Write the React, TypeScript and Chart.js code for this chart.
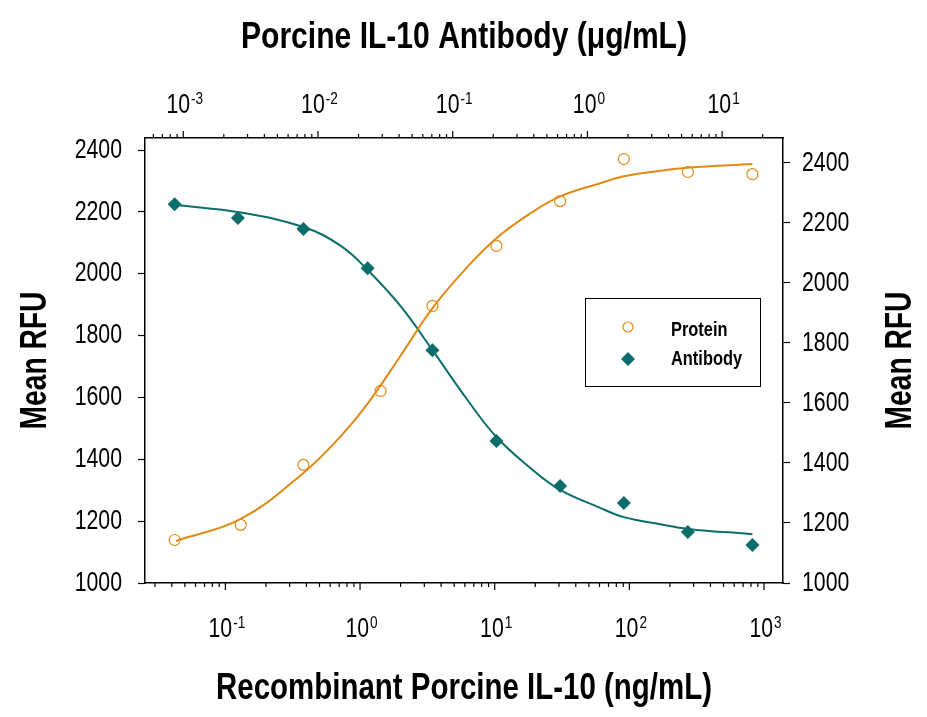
import React, { useEffect, useRef } from 'react';
import { Chart, registerables } from 'chart.js';

Chart.register(...registerables);

// measured points (ng/mL on the bottom axis, Mean RFU on the left axis)
const proteinDose = [0.042, 0.13, 0.38, 1.42, 3.45, 10.3, 30.6, 91, 272, 820];
const proteinRfu = [1139, 1188, 1382, 1621, 1896, 2090, 2235, 2371, 2329, 2322];
const antibodyDose = [0.042, 0.124, 0.38, 1.14, 3.45, 10.3, 30.6, 91, 272, 820];
const antibodyRfu = [2225, 2180, 2145, 2018, 1753, 1459, 1314, 1259, 1165, 1123];

// fitted curves
const fitDose = [0.043, 0.13, 0.38, 0.72, 1.14, 2.0, 3.45, 6.2, 10.3, 18.4, 30.6, 60, 91, 170, 272, 820];
const proteinFit = [1136, 1207, 1356, 1475, 1580, 1735, 1889, 2020, 2115, 2195, 2250, 2292, 2315, 2333, 2343, 2355];
const antibodyFit = [2222, 2198, 2151, 2090, 2012, 1895, 1753, 1595, 1472, 1372, 1301, 1244, 1213, 1190, 1175, 1158];

// axes
const rfuTicks = [1000, 1200, 1400, 1600, 1800, 2000, 2200, 2400];
const bottomDecades = [-2, -1, 0, 1, 2, 3];
const bottomLabels = [-1, 0, 1, 2, 3];
const topDecades = [-4, -3, -2, -1, 0, 1];
const topLabels = [-3, -2, -1, 0, 1];
const logSteps = [1, 2, 3, 4, 5, 6, 7, 8, 9];

const ORANGE = '#E08A14';
const TEAL = '#0B6E6A';
const FONT = "'Liberation Sans', Arial, sans-serif";

const toXY = (xs: number[], ys: number[]) => xs.map((x, i) => ({ x, y: ys[i] }));

// condensed text: the original uses a narrow face, so squeeze a regular one
const text = (ctx: any, s: string, x: number, y: number, font: string, sx: number, align: string, rot = 0) => {
  ctx.save();
  ctx.translate(x, y);
  if (rot) ctx.rotate(rot);
  ctx.scale(sx, 1);
  ctx.font = font;
  ctx.textAlign = align;
  ctx.fillText(s, 0, 0);
  ctx.restore();
};

const fitWidth = (ctx: any, s: string, font: string, target: number) => {
  ctx.font = font;
  return target / ctx.measureText(s).width;
};

const decor = {
  id: 'decor',
  afterDraw(chart: any) {
    const { ctx, chartArea, scales } = chart;
    ctx.save();
    ctx.strokeStyle = '#000';
    ctx.fillStyle = '#000';
    ctx.lineWidth = 1.2;
    ctx.textBaseline = 'alphabetic';

    const numFont = `28px ${FONT}`;
    const numSx = 0.76;
    const expFont = `17px ${FONT}`;
    const expSx = 0.8;

    // log ticks and 10^n labels for both x axes
    const drawLog = (scale: any, decades: number[], labels: number[], dir: number, base: number) => {
      const y0 = dir > 0 ? chartArea.bottom : chartArea.top;
      decades.forEach((d) => {
        logSteps.forEach((m) => {
          const v = m * Math.pow(10, d);
          if (v < scale.min || v > scale.max) return;
          const x = scale.getPixelForValue(v);
          const len = m === 1 ? 7 : 4;
          ctx.beginPath();
          ctx.moveTo(x, y0);
          ctx.lineTo(x, y0 + dir * len);
          ctx.stroke();
        });
      });
      labels.forEach((e) => {
        const x = scale.getPixelForValue(Math.pow(10, e));
        ctx.font = numFont;
        const w1 = ctx.measureText('10').width * numSx;
        ctx.font = expFont;
        const w2 = ctx.measureText(String(e)).width * expSx;
        const start = x - (w1 + w2) / 2 + 1;
        text(ctx, '10', start, base, numFont, numSx, 'left');
        text(ctx, String(e), start + w1 + 1, base - 9, expFont, expSx, 'left');
      });
    };
    drawLog(scales.x, bottomDecades, bottomLabels, 1, 637);
    drawLog(scales.x2, topDecades, topLabels, -1, 113);

    // y tick labels on both sides
    ctx.textBaseline = 'middle';
    rfuTicks.forEach((v) => {
      text(ctx, String(v), chartArea.left - 23, scales.y.getPixelForValue(v), numFont, numSx, 'right');
      text(ctx, String(v), chartArea.right + 19, scales.y2.getPixelForValue(v), numFont, numSx, 'left');
    });
    ctx.textBaseline = 'alphabetic';

    // axis titles
    const titleFont = `bold 37px ${FONT}`;
    const cx = (chartArea.left + chartArea.right) / 2;
    const cy = (chartArea.top + chartArea.bottom) / 2;
    const bottomTitle = 'Recombinant Porcine IL-10 (ng/mL)';
    const topTitle = 'Porcine IL-10 Antibody (\u03BCg/mL)';
    const yTitle = 'Mean RFU';
    text(ctx, bottomTitle, cx, 699, titleFont, fitWidth(ctx, bottomTitle, titleFont, 496), 'center');
    text(ctx, topTitle, cx, 48, titleFont, fitWidth(ctx, topTitle, titleFont, 446), 'center');
    const ySx = fitWidth(ctx, yTitle, titleFont, 138);
    text(ctx, yTitle, 46, cy, titleFont, ySx, 'center', -Math.PI / 2);
    text(ctx, yTitle, 911, cy, titleFont, ySx, 'center', -Math.PI / 2);

    // legend box
    ctx.lineWidth = 1;
    ctx.strokeRect(585.5, 298.5, 175, 88);
    ctx.strokeStyle = ORANGE;
    ctx.lineWidth = 1.2;
    ctx.beginPath();
    ctx.arc(628, 327, 5, 0, Math.PI * 2);
    ctx.stroke();
    ctx.fillStyle = TEAL;
    ctx.beginPath();
    ctx.moveTo(628, 352);
    ctx.lineTo(635, 359);
    ctx.lineTo(628, 366);
    ctx.lineTo(621, 359);
    ctx.closePath();
    ctx.fill();
    ctx.fillStyle = '#000';
    const legFont = `bold 20px ${FONT}`;
    text(ctx, chart.data.datasets[0].label, 671, 336, legFont, 0.82, 'left');
    text(ctx, chart.data.datasets[1].label, 671, 365, legFont, 0.82, 'left');
    ctx.restore();
  },
};

const App: React.FC = () => {
  const canvasRef = useRef<HTMLCanvasElement | null>(null);

  useEffect(() => {
    if (!canvasRef.current) return;
    const chart = new Chart(canvasRef.current, {
      type: 'scatter',
      data: {
        datasets: [
          {
            label: 'Protein',
            data: toXY(proteinDose, proteinRfu),
            pointStyle: 'circle',
            pointRadius: 5.5,
            pointBorderWidth: 1.2,
            borderColor: ORANGE,
            backgroundColor: 'rgba(255,255,255,0)',
            showLine: false,
          },
          {
            label: 'Antibody',
            data: toXY(antibodyDose, antibodyRfu),
            pointStyle: 'rectRot',
            pointRadius: 7,
            pointBorderWidth: 0,
            borderColor: TEAL,
            backgroundColor: TEAL,
            showLine: false,
          },
          {
            label: 'Protein fit',
            data: toXY(fitDose, proteinFit),
            showLine: true,
            pointRadius: 0,
            borderColor: ORANGE,
            borderWidth: 2,
            tension: 0.4,
          },
          {
            label: 'Antibody fit',
            data: toXY(fitDose, antibodyFit),
            showLine: true,
            pointRadius: 0,
            borderColor: TEAL,
            borderWidth: 2,
            tension: 0.4,
          },
        ],
      },
      options: {
        responsive: true,
        maintainAspectRatio: false,
        animation: false,
        layout: { padding: 0 },
        plugins: { legend: { display: false }, tooltip: { enabled: false } },
        scales: {
          x: {
            type: 'logarithmic',
            position: 'bottom',
            min: 0.0253,
            max: 1383,
            grid: { display: false },
            border: { display: true, color: '#000', width: 1.5 },
            ticks: { display: false },
            afterFit: (s: any) => { s.height = 134; },
          },
          x2: {
            type: 'logarithmic',
            position: 'top',
            min: 0.00052,
            max: 28.3,
            grid: { display: false },
            border: { display: true, color: '#000', width: 1.5 },
            ticks: { display: false },
            afterFit: (s: any) => { s.height = 138; },
          },
          y: {
            position: 'left',
            min: 1000,
            max: 2439,
            grid: { drawOnChartArea: false, tickLength: 7, tickColor: '#000', tickWidth: 1.2 },
            border: { display: true, color: '#000', width: 1.5 },
            ticks: { display: false },
            afterBuildTicks: (s: any) => { s.ticks = rfuTicks.map((value) => ({ value })); },
            afterFit: (s: any) => { s.width = 145; },
          },
          y2: {
            position: 'right',
            min: 1000,
            max: 2483,
            grid: { drawOnChartArea: false, tickLength: 7, tickColor: '#000', tickWidth: 1.2 },
            border: { display: true, color: '#000', width: 1.5 },
            ticks: { display: false },
            afterBuildTicks: (s: any) => { s.ticks = rfuTicks.map((value) => ({ value })); },
            afterFit: (s: any) => { s.width = 144; },
          },
        },
      },
      plugins: [decor],
    });
    return () => chart.destroy();
  }, []);

  return (
    <div style={{ position: 'absolute', left: 0, top: 0, width: 927, height: 717, background: '#fff' }}>
      <canvas ref={canvasRef} />
    </div>
  );
};

export default App;
